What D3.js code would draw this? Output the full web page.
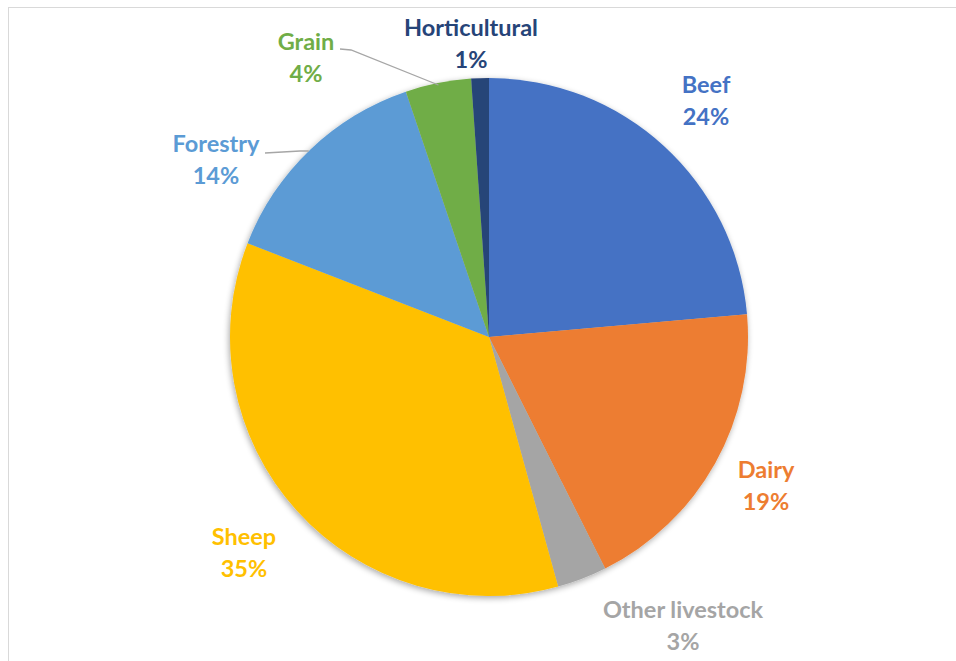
<!DOCTYPE html>
<html>
<head>
<meta charset="utf-8">
<script src="https://cdn.jsdelivr.net/npm/d3@7/dist/d3.min.js"></script>
<style>
  html, body { margin: 0; padding: 0; background: #fff; }
  svg { display: block; }
  text { font-family: Lato, "Open Sans", sans-serif; font-weight: 700; }
</style>
</head>
<body>
<svg id="chart" width="956" height="661"></svg>
<script>
// Share of land use by enterprise (percent), clockwise from 12 o'clock
const categories = ["Beef", "Dairy", "Other livestock", "Sheep", "Forestry", "Grain", "Horticultural"];
const shares = [23.6, 19.0, 3.1, 35.2, 13.9, 4.1, 1.1];
const colors = ["#4472C4", "#ED7D31", "#A5A5A5", "#FFC000", "#5B9BD5", "#70AD47", "#264478"];

// Label anchor points (centre of the two-line label block)
const labelPos = [
  [706, 100], [766, 485], [683, 625], [244, 552], [216, 159], [306, 57], [471, 43]
];
// Leader lines drawn for the small slices whose labels sit away from the pie
const leaders = {
  "Grain": [[340, 49], [351, 50]],
  "Forestry": [[265, 153], [300, 151]]
};

const data = categories.map((c, i) => ({ name: c, value: shares[i], color: colors[i], pos: labelPos[i] }));
const total = d3.sum(shares);
const fmt = v => Math.round(v / total * 100) + "%";

const svg = d3.select("#chart");
const cx = 489, cy = 337, r = 259;

// Chart area frame
svg.append("rect")
  .attr("x", 8.5).attr("y", 7.5)
  .attr("width", 1000).attr("height", 700)
  .attr("fill", "#fff").attr("stroke", "#d9d9d9").attr("stroke-width", 1);

const defs = svg.append("defs");
const shadow = defs.append("filter").attr("id", "pieShadow")
  .attr("x", "-10%").attr("y", "-10%").attr("width", "120%").attr("height", "120%");
shadow.append("feGaussianBlur").attr("in", "SourceAlpha").attr("stdDeviation", 3).attr("result", "blur");
shadow.append("feOffset").attr("in", "blur").attr("dx", -1).attr("dy", 2).attr("result", "off");
shadow.append("feComponentTransfer").attr("in", "off").attr("result", "soft")
  .append("feFuncA").attr("type", "linear").attr("slope", 0.35);
const merge = shadow.append("feMerge");
merge.append("feMergeNode").attr("in", "soft");
merge.append("feMergeNode").attr("in", "SourceGraphic");

const pie = d3.pie().value(d => d.value).sort(null);
const arc = d3.arc().innerRadius(0).outerRadius(r);

const g = svg.append("g").attr("transform", `translate(${cx},${cy})`).attr("filter", "url(#pieShadow)");
g.selectAll("path")
  .data(pie(data))
  .join("path")
  .attr("d", arc)
  .attr("fill", d => d.data.color);

// Leader lines: from label to the pie edge
Object.entries(leaders).forEach(([name, pts]) => {
  const slice = pie(data).find(s => s.data.name === name);
  const mid = (slice.startAngle + slice.endAngle) / 2;
  let end;
  if (name === "Forestry") {
    // meet the rim at the label's height
    const y = pts[1][1] - cy;
    end = [cx - Math.sqrt(r * r - y * y), pts[1][1]];
  } else {
    end = [cx + Math.sin(mid) * (r - 2), cy - Math.cos(mid) * (r - 2)];
  }
  svg.append("polyline")
    .attr("points", [...pts, end].map(p => p.join(",")).join(" "))
    .attr("fill", "none").attr("stroke", "#a6a6a6").attr("stroke-width", 1.3);
});

const labels = svg.selectAll("g.label")
  .data(data)
  .join("g")
  .attr("class", "label")
  .attr("transform", d => `translate(${d.pos[0]},${d.pos[1]})`);
labels.append("text")
  .attr("text-anchor", "middle")
  .attr("y", -7)
  .attr("font-size", 23.5)
  .attr("fill", d => d.color)
  .text(d => d.name);
labels.append("text")
  .attr("text-anchor", "middle")
  .attr("y", 25)
  .attr("font-size", 23.5)
  .attr("fill", d => d.color)
  .text(d => fmt(d.value));
</script>
</body>
</html>
